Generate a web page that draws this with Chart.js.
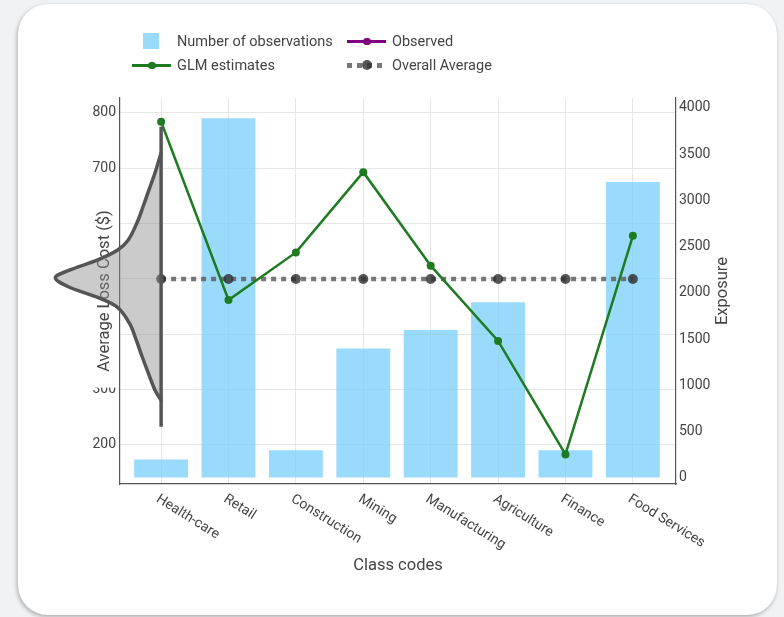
<!DOCTYPE html>
<html lang="en">
<head>
<meta charset="utf-8">
<title>Average loss cost by class code</title>
<script src="https://cdn.jsdelivr.net/npm/chart.js@4.4.1/dist/chart.umd.min.js"></script>
<style>
  html, body { margin:0; padding:0; width:784px; height:617px; overflow:hidden; background:#f1f2f4; font-family:Roboto, "Noto Sans", sans-serif; }
  .card { position:absolute; left:18px; top:4px; width:759px; height:611px; background:#fff; border-radius:30px;
          box-shadow:-1px 2px 4px rgba(0,0,0,0.28), 0 0 1px rgba(0,0,0,0.12); }
  #chart { position:absolute; left:0; top:0; }
  .legend-item { position:absolute; height:24px; display:flex; align-items:center; font-size:14.5px; color:#444; white-space:nowrap; }
  .legend-sym { position:relative; width:39px; height:24px; margin-right:6px; flex:none; }
  .legend-sym span { position:absolute; display:block; }
</style>
</head>
<body>
<div class="card"></div>
<canvas id="chart" width="784" height="617"></canvas>
<div id="legend"></div>
<script>
// Class codes on the x axis
const categories = ['Health-care', 'Retail', 'Construction', 'Mining', 'Manufacturing', 'Agriculture', 'Finance', 'Food Services'];
// Exposure (number of observations) per class, right axis
const exposure = [200, 3890, 300, 1400, 1600, 1900, 300, 3200];
// Average loss cost ($), left axis
const glmEstimates = [784, 462, 548, 693, 524, 388, 183, 578];
const observedLoss = [];
const overallAverage = [500, 500, 500, 500, 500, 500, 500, 500];

// Axis ticks
const lossTickValues = [200, 300, 400, 500, 600, 700, 800];
const lossTickLabels = ['200', '300', '', '', '', '700', '800'];
const exposureTickValues = [0, 500, 1000, 1500, 2000, 2500, 3000, 3500, 4000];
const exposureTickLabels = ['0', '500', '1000', '1500', '2000', '2500', '3000', '3500', '4000'];
const exposureTitle = 'Exposure';

// Loss-cost distribution drawn sideways on the first class code
const densityLoss   = [728, 692, 661, 630, 601, 570, 552, 534, 516, 502, 485, 467, 449, 420, 390, 359, 330, 299, 281];
const densityOffset = [0, -0.09, -0.18, -0.27, -0.36, -0.49, -0.65, -0.95, -1.36, -1.57, -1.36, -0.95, -0.65, -0.47, -0.37, -0.28, -0.19, -0.09, 0];
const densityStem   = [233, 775];

const toPoints = arr => arr.map((v, i) => ({ x: i, y: v }));

function smoothPath(ctx, pts) {
  ctx.moveTo(pts[0].x, pts[0].y);
  for (let i = 0; i < pts.length - 1; i++) {
    const p0 = pts[i - 1] || pts[i], p1 = pts[i], p2 = pts[i + 1], p3 = pts[i + 2] || p2;
    ctx.bezierCurveTo(
      p1.x + (p2.x - p0.x) / 6, p1.y + (p2.y - p0.y) / 6,
      p2.x - (p3.x - p1.x) / 6, p2.y - (p3.y - p1.y) / 6,
      p2.x, p2.y);
  }
}

const densityPlugin = {
  id: 'lossDensity',
  beforeDatasetsDraw(chart) {
    // inset backing that hides the top of the 300 label
    const { ctx, chartArea, scales: { y } } = chart;
    const t = y.getPixelForValue(300);
    ctx.save();
    ctx.fillStyle = '#fff';
    ctx.fillRect(chartArea.left - 32, t - 10, 31, 8);
    ctx.restore();
  },
  afterDatasetsDraw(chart) {
    const { ctx, scales: { x, y } } = chart;
    const pts = densityLoss.map((v, i) => ({ x: x.getPixelForValue(densityOffset[i]), y: y.getPixelForValue(v) }));
    ctx.save();
    ctx.beginPath();
    smoothPath(ctx, pts);
    ctx.closePath();
    ctx.fillStyle = 'rgba(140,140,140,0.45)';
    ctx.fill();
    ctx.beginPath();
    smoothPath(ctx, pts);
    ctx.lineWidth = 3.5;
    ctx.lineJoin = 'round';
    ctx.lineCap = 'round';
    ctx.strokeStyle = '#555';
    ctx.stroke();
    const sx = x.getPixelForValue(0);
    ctx.beginPath();
    ctx.moveTo(sx, y.getPixelForValue(densityStem[0]));
    ctx.lineTo(sx, y.getPixelForValue(densityStem[1]));
    ctx.lineCap = 'butt';
    ctx.stroke();
    ctx.restore();
  }
};

const labelPlugin = {
  id: 'slantedLabels',
  afterDraw(chart) {
    const { ctx, chartArea, scales: { x, yExposure } } = chart;
    ctx.save();
    ctx.fillStyle = '#444';
    ctx.font = '14px Roboto';
    ctx.textAlign = 'left';
    ctx.textBaseline = 'top';
    categories.forEach((name, i) => {
      ctx.save();
      ctx.translate(x.getPixelForValue(i), chartArea.bottom + 8);
      ctx.rotate(32 * Math.PI / 180);
      ctx.fillText(name, 0, 0);
      ctx.restore();
    });
    // right axis title, reading bottom to top
    ctx.font = '16.5px Roboto';
    ctx.textAlign = 'center';
    ctx.textBaseline = 'middle';
    ctx.translate(yExposure.right - 9.9, (chartArea.top + chartArea.bottom) / 2);
    ctx.rotate(-Math.PI / 2);
    ctx.fillText(exposureTitle, 0, 0);
    ctx.restore();
  }
};

const tickFont = { family: 'Roboto', size: 14 };
const titleFont = { family: 'Roboto', size: 16.5 };

const chart = new Chart(document.getElementById('chart'), {
  type: 'bar',
  data: {
    datasets: [
      {
        type: 'bar', label: 'Number of observations', data: toPoints(exposure), yAxisID: 'yExposure',
        backgroundColor: 'rgba(120,205,248,0.75)', borderWidth: 0, categoryPercentage: 1, barPercentage: 0.8, order: 3
      },
      {
        type: 'line', label: 'Observed', data: toPoints(observedLoss), yAxisID: 'y',
        borderColor: '#800080', backgroundColor: '#800080', borderWidth: 2.5, pointRadius: 4, order: 1
      },
      {
        type: 'line', label: 'GLM estimates', data: toPoints(glmEstimates), yAxisID: 'y',
        borderColor: '#1e7b22', backgroundColor: '#1e7b22', borderWidth: 2.5, pointRadius: 4, pointBorderWidth: 0, order: 1
      },
      {
        type: 'line', label: 'Overall Average', data: toPoints(overallAverage), yAxisID: 'y',
        borderColor: 'rgba(95,95,95,0.85)', borderDash: [5, 5], borderWidth: 4.5, borderCapStyle: 'butt',
        pointRadius: 5, pointBackgroundColor: 'rgba(45,45,45,0.8)', pointBorderWidth: 0, order: 2
      }
    ]
  },
  options: {
    responsive: false,
    animation: false,
    devicePixelRatio: 1,
    layout: { padding: { left: 80, right: 51, top: 98, bottom: 41 } },
    plugins: { legend: { display: false }, tooltip: { enabled: false } },
    scales: {
      x: {
        type: 'linear', min: -0.61, max: 7.64, offset: false,
        afterBuildTicks: s => { s.ticks = categories.map((_, i) => ({ value: i })); },
        afterFit: s => { s.height = 92; },
        ticks: { display: false },
        grid: { color: '#e6e6e6', drawTicks: false, offset: false },
        border: { color: '#555', width: 1.2 },
        title: { display: true, text: 'Class codes', color: '#444', font: titleFont, padding: 0 }
      },
      y: {
        position: 'left', min: 129.5, max: 827,
        afterBuildTicks: s => { s.ticks = lossTickValues.map(v => ({ value: v })); },
        afterFit: s => { s.width = 40; },
        ticks: { callback: (v, i) => lossTickLabels[i], padding: 4, color: '#444', font: tickFont },
        grid: { color: '#e6e6e6', drawTicks: false },
        border: { color: '#555', width: 1.2 },
        title: { display: true, text: 'Average Loss Cost ($)', color: '#444', font: titleFont, padding: { top: 15, bottom: 0 } }
      },
      yExposure: {
        position: 'right', min: -65, max: 4108,
        afterBuildTicks: s => { s.ticks = exposureTickValues.map(v => ({ value: v })); },
        afterFit: s => { s.width = 57; },
        ticks: { callback: (v, i) => exposureTickLabels[i], padding: 3, color: '#444', font: tickFont },
        grid: { drawOnChartArea: false, drawTicks: false },
        border: { color: '#555', width: 1.2 }
      }
    }
  },
  plugins: [densityPlugin, labelPlugin]
});

// Two-column legend built from the chart's datasets
const legendSlots = [[132, 29], [347, 29], [132, 53], [347, 53]];
const legendBox = document.getElementById('legend');
chart.data.datasets.forEach((ds, k) => {
  const item = document.createElement('div');
  item.className = 'legend-item';
  item.style.left = legendSlots[k][0] + 'px';
  item.style.top = legendSlots[k][1] + 'px';
  const sym = document.createElement('div');
  sym.className = 'legend-sym';
  if (ds.type === 'bar') {
    sym.innerHTML = `<span style="left:11px;top:4px;width:16px;height:16px;background:${ds.backgroundColor}"></span>`;
  } else if (ds.borderDash) {
    sym.innerHTML =
      `<span style="left:0;top:10px;width:39px;height:4.5px;background:repeating-linear-gradient(to right, ${ds.borderColor} 0 5px, transparent 5px 10px)"></span>` +
      `<span style="left:15px;top:7px;width:10px;height:10px;border-radius:50%;background:${ds.pointBackgroundColor}"></span>`;
  } else {
    sym.innerHTML =
      `<span style="left:0;top:11px;width:39px;height:2.5px;background:${ds.borderColor}"></span>` +
      `<span style="left:16px;top:8.5px;width:7.5px;height:7.5px;border-radius:50%;background:${ds.borderColor}"></span>`;
  }
  const text = document.createElement('span');
  text.textContent = ds.label;
  item.appendChild(sym);
  item.appendChild(text);
  legendBox.appendChild(item);
});
</script>
</body>
</html>
